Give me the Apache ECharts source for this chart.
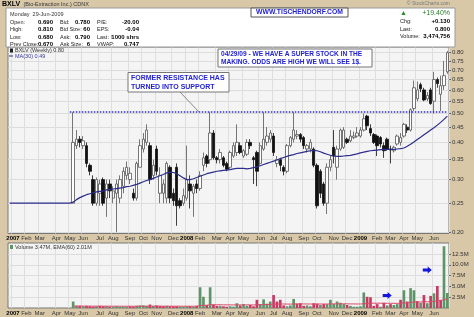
<!DOCTYPE html>
<html>
<head>
<meta charset="utf-8">
<title>BXLV weekly</title>
<script src="https://cdn.jsdelivr.net/npm/echarts@6/dist/echarts.min.js"></script>
<style>
  html, body { margin: 0; padding: 0; background: #d8c8a8; }
  #chart { width: 474px; height: 317px; }
</style>
</head>
<body>
<div id="chart"></div>
<script>
// weekly bars, first slot = week ending 29-Dec-2006, last = week of 29-Jun-2009
var firstWeekEnding = '2006-12-29';
var weekCount = 132;
var firstTradeWeek = 19;   // BXLV starts trading in May 2007

// OHLC for every traded week (from firstTradeWeek on)
var opens = [
  0.25, 0.39, 0.41, 0.39, 0.39, 0.335, 0.30, 0.25, 0.27, 0.30,
  0.26, 0.29, 0.26, 0.27, 0.26, 0.285, 0.31, 0.30, 0.27, 0.26,
  0.33, 0.38, 0.40, 0.39, 0.31, 0.38, 0.27, 0.27, 0.26, 0.33,
  0.27, 0.33, 0.255, 0.25, 0.26, 0.29, 0.27, 0.29, 0.28, 0.335,
  0.36, 0.35, 0.43, 0.355, 0.35, 0.355, 0.34, 0.33, 0.36, 0.37,
  0.39, 0.36, 0.365, 0.40, 0.355, 0.37, 0.34, 0.38, 0.40, 0.41,
  0.42, 0.34, 0.35, 0.33, 0.32, 0.39, 0.41, 0.42, 0.425, 0.415,
  0.38, 0.38, 0.38, 0.335, 0.32, 0.29, 0.25, 0.33, 0.385, 0.33,
  0.38, 0.385, 0.41, 0.405, 0.415, 0.42, 0.42, 0.44, 0.49, 0.445,
  0.425, 0.42, 0.415, 0.39, 0.41, 0.38, 0.375, 0.395, 0.40, 0.42,
  0.45, 0.44, 0.52, 0.56, 0.625, 0.60, 0.56, 0.60, 0.55, 0.65,
  0.58, 0.62, 0.69
];
var closes = [
  0.40, 0.41, 0.40, 0.405, 0.34, 0.32, 0.25, 0.30, 0.29, 0.25,
  0.29, 0.275, 0.275, 0.29, 0.30, 0.32, 0.33, 0.315, 0.26, 0.34,
  0.39, 0.41, 0.44, 0.30, 0.335, 0.32, 0.31, 0.29, 0.34, 0.26,
  0.255, 0.245, 0.245, 0.265, 0.30, 0.275, 0.285, 0.28, 0.31, 0.355,
  0.34, 0.43, 0.355, 0.35, 0.37, 0.335, 0.325, 0.37, 0.39, 0.40,
  0.37, 0.375, 0.40, 0.39, 0.35, 0.32, 0.39, 0.41, 0.42, 0.43,
  0.37, 0.35, 0.335, 0.32, 0.39, 0.415, 0.44, 0.425, 0.41, 0.39,
  0.39, 0.40, 0.335, 0.245, 0.27, 0.25, 0.33, 0.35, 0.36, 0.38,
  0.44, 0.44, 0.40, 0.42, 0.42, 0.43, 0.44, 0.48, 0.455, 0.43,
  0.40, 0.39, 0.395, 0.375, 0.38, 0.377, 0.385, 0.42, 0.415, 0.46,
  0.44, 0.515, 0.61, 0.60, 0.605, 0.555, 0.575, 0.54, 0.65, 0.63,
  0.62, 0.67, 0.80
];
var lows = [
  0.25, 0.38, 0.385, 0.38, 0.33, 0.31, 0.245, 0.245, 0.245, 0.245,
  0.225, 0.26, 0.25, 0.20, 0.25, 0.27, 0.30, 0.29, 0.255, 0.255,
  0.33, 0.37, 0.39, 0.29, 0.30, 0.31, 0.25, 0.25, 0.25, 0.25,
  0.245, 0.21, 0.24, 0.245, 0.255, 0.24, 0.225, 0.27, 0.275, 0.32,
  0.33, 0.34, 0.35, 0.34, 0.34, 0.33, 0.32, 0.325, 0.355, 0.36,
  0.365, 0.355, 0.36, 0.38, 0.29, 0.285, 0.335, 0.375, 0.39, 0.40,
  0.36, 0.33, 0.32, 0.31, 0.315, 0.385, 0.40, 0.41, 0.40, 0.38,
  0.37, 0.37, 0.33, 0.24, 0.26, 0.245, 0.23, 0.32, 0.34, 0.30,
  0.375, 0.38, 0.395, 0.40, 0.41, 0.415, 0.415, 0.435, 0.44, 0.42,
  0.395, 0.36, 0.385, 0.355, 0.375, 0.34, 0.37, 0.39, 0.39, 0.415,
  0.43, 0.435, 0.51, 0.55, 0.59, 0.55, 0.55, 0.535, 0.50, 0.61,
  0.51, 0.60, 0.68
];
var highs = [
  0.505, 0.44, 0.42, 0.42, 0.40, 0.34, 0.31, 0.305, 0.30, 0.305,
  0.30, 0.30, 0.285, 0.30, 0.31, 0.33, 0.345, 0.33, 0.28, 0.345,
  0.41, 0.43, 0.46, 0.40, 0.35, 0.39, 0.33, 0.30, 0.345, 0.335,
  0.28, 0.34, 0.26, 0.28, 0.39, 0.31, 0.29, 0.30, 0.32, 0.37,
  0.365, 0.505, 0.44, 0.36, 0.38, 0.36, 0.345, 0.375, 0.40, 0.46,
  0.40, 0.38, 0.41, 0.41, 0.36, 0.375, 0.40, 0.505, 0.45, 0.44,
  0.43, 0.36, 0.355, 0.335, 0.395, 0.42, 0.505, 0.44, 0.43, 0.42,
  0.395, 0.41, 0.385, 0.34, 0.325, 0.295, 0.34, 0.36, 0.44, 0.39,
  0.445, 0.45, 0.415, 0.44, 0.435, 0.45, 0.45, 0.50, 0.495, 0.46,
  0.43, 0.425, 0.42, 0.40, 0.415, 0.39, 0.39, 0.425, 0.43, 0.465,
  0.46, 0.52, 0.645, 0.64, 0.635, 0.61, 0.59, 0.61, 0.69, 0.66,
  0.67, 0.75, 0.81
];
// weekly volume, millions of shares
var volumes = [
  1.5, 0.5, 0.5, 0.4, 0.5, 0.4, 0.3, 0.4, 0.5, 0.4,
  0.4, 0.3, 0.3, 0.4, 0.3, 0.3, 0.3, 0.4, 0.3, 0.5,
  0.6, 0.6, 0.5, 0.8, 0.5, 0.6, 0.5, 0.4, 0.5, 0.4,
  0.4, 0.4, 0.3, 0.3, 0.4, 0.4, 0.3, 0.5, 4.8, 2.6,
  0.7, 4.8, 0.8, 0.5, 0.5, 0.4, 0.3, 0.4, 0.3, 1.1,
  0.6, 0.9, 0.5, 0.7, 0.4, 1.9, 0.9, 2.0, 1.0, 1.5,
  3.0, 1.5, 1.9, 0.6, 0.4, 0.6, 2.1, 1.0, 1.1, 0.5,
  0.6, 0.4, 1.1, 1.0, 0.7, 0.9, 0.9, 1.9, 0.9, 1.5,
  1.2, 0.9, 0.7, 0.5, 0.3, 0.3, 0.4, 3.6, 2.6, 2.5,
  0.5, 0.9, 0.3, 1.2, 0.6, 0.9, 0.7, 0.9, 1.9, 4.1,
  1.5, 4.6, 4.1, 1.6, 1.2, 3.0, 1.1, 2.8, 3.4, 5.1,
  1.9, 14.3, 3.47
];
var volumeEma = [
  0.45, 0.45, 0.45, 0.44, 0.44, 0.44, 0.43, 0.43, 0.43, 0.43,
  0.42, 0.42, 0.42, 0.42, 0.41, 0.41, 0.41, 0.41, 0.41, 0.41,
  0.41, 0.41, 0.41, 0.42, 0.42, 0.42, 0.42, 0.42, 0.42, 0.42,
  0.41, 0.41, 0.41, 0.41, 0.41, 0.41, 0.41, 0.41, 0.55, 0.62,
  0.63, 0.76, 0.76, 0.75, 0.75, 0.74, 0.73, 0.72, 0.71, 0.72,
  0.72, 0.72, 0.72, 0.72, 0.71, 0.75, 0.75, 0.79, 0.79, 0.81,
  0.88, 0.90, 0.93, 0.92, 0.91, 0.90, 0.94, 0.94, 0.95, 0.94,
  0.93, 0.92, 0.92, 0.92, 0.92, 0.92, 0.92, 0.95, 0.95, 0.96,
  0.97, 0.97, 0.96, 0.95, 0.94, 0.93, 0.92, 1.00, 1.06, 1.12,
  1.11, 1.11, 1.10, 1.10, 1.09, 1.09, 1.08, 1.08, 1.10, 1.19,
  1.20, 1.30, 1.38, 1.39, 1.39, 1.45, 1.44, 1.49, 1.55, 1.67,
  1.67, 2.00, 2.01
];
// MA(30) for every slot of the axis
var ma30 = [
  0.25, 0.25, 0.25, 0.25, 0.25, 0.25, 0.25, 0.25, 0.25, 0.25,
  0.25, 0.25, 0.25, 0.25, 0.25, 0.25, 0.25, 0.25, 0.25,
  0.252, 0.257, 0.261, 0.264, 0.267, 0.269, 0.271, 0.273, 0.274, 0.275,
  0.277, 0.278, 0.279, 0.280, 0.281, 0.282, 0.284, 0.285, 0.287, 0.289,
  0.292, 0.295, 0.298, 0.300, 0.303, 0.306, 0.309, 0.312, 0.316, 0.318,
  0.317, 0.314, 0.309, 0.304, 0.300, 0.300, 0.302, 0.305, 0.308, 0.311,
  0.314, 0.316, 0.318, 0.320, 0.321, 0.322, 0.323, 0.324, 0.326, 0.327,
  0.327, 0.327, 0.326, 0.327, 0.329, 0.331, 0.334, 0.337, 0.340, 0.343,
  0.346, 0.349, 0.353, 0.356, 0.359, 0.362, 0.364, 0.367, 0.369, 0.371,
  0.373, 0.375, 0.376, 0.375, 0.372, 0.368, 0.365, 0.362, 0.360, 0.359,
  0.359, 0.360, 0.361, 0.362, 0.364, 0.366, 0.369, 0.371, 0.373, 0.375,
  0.376, 0.377, 0.378, 0.379, 0.379, 0.379, 0.379, 0.380, 0.381, 0.383,
  0.388, 0.394, 0.401, 0.409, 0.416, 0.424, 0.432, 0.440, 0.448, 0.457,
  0.467, 0.478, 0.490
];

var priceTicks = [0.20, 0.25, 0.30, 0.35, 0.40, 0.45, 0.50, 0.55, 0.60, 0.65, 0.70, 0.75, 0.80];
var volumeTicks = [2.5, 5.0, 7.5, 10.0, 12.5];
var monthNames = ['Jan', 'Feb', 'Mar', 'Apr', 'May', 'Jun', 'Jul', 'Aug', 'Sep', 'Oct', 'Nov', 'Dec'];
var resistanceLevel = 0.505;
var resistanceFrom = 18, resistanceTo = 131;
var arrowMarks = [[113, 2.9], [125, 8.8]];   // [week slot, volume M]

var FONT = 'Liberation Sans, Arial, sans-serif';

var weekDates = [];
var categories = [];
var t0 = Date.parse(firstWeekEnding + 'T00:00:00Z');
for (var k = 0; k < weekCount; k++) {
    var d = new Date(t0 + k * 7 * 86400000);
    weekDates.push(d);
    categories.push(d.toISOString().slice(0, 10));
}
// first week of a month gets a label and a grid line (the last, partial week does not)
function monthStart(k) {
    if (k === 0 || k === weekCount - 1) return false;
    return weekDates[k].getUTCMonth() !== weekDates[k - 1].getUTCMonth();
}
function monthLabel(v, k) {
    var d = weekDates[k];
    if (d.getUTCMonth() === 0) return '{y|' + d.getUTCFullYear() + '}';
    return monthNames[d.getUTCMonth()];
}

var candleData = [], volData = [], emaData = [];
for (var j = 0; j < opens.length; j++) {
    var slot = j + firstTradeWeek;
    candleData.push([slot, opens[j], closes[j], lows[j], highs[j]]);
    var up = j === 0 ? closes[j] >= opens[j] : closes[j] >= closes[j - 1];
    volData.push({value: [slot, volumes[j]], itemStyle: {color: up ? '#5f9468' : '#c53a60'}});
    emaData.push([slot, volumeEma[j]]);
}

function xAxisFor(gridIndex) {
    return {
        type: 'category', gridIndex: gridIndex, data: categories, boundaryGap: true,
        axisLine: {show: false}, axisTick: {show: false},
        axisLabel: {
            interval: function (k) { return monthStart(k); },
            formatter: monthLabel, fontSize: 6, color: '#333', margin: 2, fontFamily: FONT,
            rich: {y: {fontSize: 6, fontWeight: 'bold', color: '#000', fontFamily: FONT}}
        },
        splitLine: {show: true, interval: function (k) { return monthStart(k); },
            lineStyle: {color: '#dedede', width: 1}}
    };
}

// small helpers for the annotation texts
function txt(x, y, s, size, color, weight, align) {
    return {type: 'text', x: x, y: y, z: 100, silent: true, style: {
        text: s, fill: color || '#222', align: align || 'left', verticalAlign: 'middle',
        font: (weight || 'normal') + ' ' + size + 'px ' + FONT}};
}
function box(x, y, w, h, stroke) {
    return {type: 'rect', z: 99, silent: true, shape: {x: x, y: y, width: w, height: h},
        style: {fill: '#ffffff', stroke: stroke || '#888', lineWidth: 1}};
}

var blue = '#2323d2';
var graphics = [
    {type: 'text', x: 2, y: 4.5, z: 100, style: {
        text: '{a|BXLV} {b|(Bio-Extraction Inc.) CDNX}', verticalAlign: 'middle',
        rich: {a: {font: 'bold 7px ' + FONT, fill: '#000'}, b: {font: '5.5px ' + FONT, fill: '#333'}}}},
    txt(450, 4, '© StockCharts.com', 5, '#777', 'normal', 'right'),
    box(6, 8, 449, 39, '#999'),
    txt(10, 14, 'Monday  29-Jun-2009', 5.5, '#333'),
    txt(10, 22, 'Open:', 5.5), txt(53, 22, '0.690', 6, '#000', 'bold', 'right'),
    txt(10, 29.5, 'High:', 5.5), txt(53, 29.5, '0.810', 6, '#000', 'bold', 'right'),
    txt(10, 37, 'Low:', 5.5), txt(53, 37, '0.680', 6, '#000', 'bold', 'right'),
    txt(10, 44, 'Prev Close:', 5.5), txt(53, 44, '0.670', 6, '#000', 'bold', 'right'),
    txt(60, 22, 'Bid:', 5.5), txt(90, 22, '0.780', 6, '#000', 'bold', 'right'),
    txt(60, 29.5, 'Bid Size:', 5.5), txt(90, 29.5, '60', 6, '#000', 'bold', 'right'),
    txt(60, 37, 'Ask:', 5.5), txt(90, 37, '0.790', 6, '#000', 'bold', 'right'),
    txt(60, 44, 'Ask Size:', 5.5), txt(90, 44, '6', 6, '#000', 'bold', 'right'),
    txt(97, 22, 'P/E:', 5.5), txt(139, 22, '-20.00', 6, '#000', 'bold', 'right'),
    txt(97, 29.5, 'EPS:', 5.5), txt(139, 29.5, '-0.04', 6, '#000', 'bold', 'right'),
    txt(97, 37, 'Last:', 5.5), txt(110, 37, '↑', 6.5, '#1f8a2a', 'bold'),
    txt(139, 37, '1000 shrs', 6, '#000', 'bold', 'right'),
    txt(97, 44, 'VWAP:', 5.5), txt(139, 44, '0.747', 6, '#000', 'bold', 'right'),
    txt(400, 13, '▲', 7, '#2a8a2a'),
    txt(450, 13, '+19.40%', 7, '#2a7a2a', 'normal', 'right'),
    txt(400, 21.5, 'Chg:', 5.5), txt(450, 21.5, '+0.130', 6, '#000', 'bold', 'right'),
    txt(400, 29, 'Last:', 5.5), txt(450, 29, '0.800', 6, '#000', 'bold', 'right'),
    txt(400, 36.5, 'Volume:', 5.5), txt(450, 36.5, '3,474,756', 6, '#000', 'bold', 'right'),
    box(251, 8, 97, 9, '#555'),
    txt(299.5, 12.5, 'WWW.TISCHENDORF.COM', 6.8, blue, 'bold', 'center'),
    // price legend
    {type: 'rect', z: 100, shape: {x: 10, y: 48.5, width: 3, height: 4}, style: {fill: '#222'}},
    txt(15, 50.5, 'BXLV (Weekly) 0.80', 5.5, '#333'),
    {type: 'line', z: 100, shape: {x1: 9, y1: 56, x2: 13, y2: 56}, style: {stroke: '#2c2c8c', lineWidth: 1}},
    txt(15, 56, 'MA(30) 0.49', 5.5, '#3a3aa0'),
    // notes on the price panel
    box(218, 49, 154, 18, '#777'),
    txt(221, 54.5, '04/29/09 - WE HAVE A SUPER STOCK IN THE', 6.6, blue, 'bold'),
    txt(221, 62.5, 'MAKING. ODDS ARE HIGH WE WILL SEE 1$.', 6.6, blue, 'bold'),
    {type: 'line', z: 98, shape: {x1: 180, y1: 92, x2: 199, y2: 112}, style: {stroke: '#888', lineWidth: 1}},
    box(128, 72.5, 101, 19.5, '#777'),
    txt(131, 78, 'FORMER RESISTANCE HAS', 7, blue, 'bold'),
    txt(131, 87, 'TURNED INTO SUPPORT', 7, blue, 'bold'),
    // volume legend
    {type: 'rect', z: 100, shape: {x: 10, y: 245, width: 3, height: 4}, style: {fill: '#5f9468'}},
    txt(15, 247, 'Volume 3.47M, EMA(60) 2.01M', 5.5, '#333')
];

var chart = echarts.init(document.getElementById('chart'), null, {renderer: 'canvas'});
chart.setOption({
    animation: false,
    backgroundColor: '#d8c8a8',
    grid: [
        {left: 8, width: 441, top: 47, height: 186.5, show: true, backgroundColor: '#f4f4f4',
            borderColor: '#777', borderWidth: 1, outerBoundsMode: 'none'},
        {left: 8, width: 441, top: 243, height: 65, show: true, backgroundColor: '#f4f4f4',
            borderColor: '#777', borderWidth: 1, outerBoundsMode: 'none'}
    ],
    xAxis: [xAxisFor(0), xAxisFor(1)],
    yAxis: [
        {
            type: 'log', gridIndex: 0, position: 'right', min: 0.1978, max: 0.836,
            axisLine: {show: false},
            axisTick: {show: true, length: 2, customValues: priceTicks, lineStyle: {color: '#666'}},
            axisLabel: {customValues: priceTicks, fontSize: 6, color: '#333', margin: 3, fontFamily: FONT,
                formatter: function (v) { return (+v).toFixed(2); }},
            splitLine: {show: true, lineStyle: {color: '#dcdcdc', width: 1}}
        },
        {
            type: 'value', gridIndex: 1, position: 'right', min: 0, max: 15.05,
            axisLine: {show: false},
            axisTick: {show: true, length: 2, customValues: volumeTicks, lineStyle: {color: '#666'}},
            axisLabel: {customValues: volumeTicks, fontSize: 6, color: '#333', margin: 3, fontFamily: FONT,
                formatter: function (v) { return (+v).toFixed(1) + 'M'; }},
            splitLine: {show: true, lineStyle: {color: '#dcdcdc', width: 1}}
        }
    ],
    series: [
        {
            type: 'candlestick', xAxisIndex: 0, yAxisIndex: 0,
            data: candleData, encode: {x: 0, y: [1, 2, 3, 4]},
            barWidth: '88%',
            itemStyle: {color: '#ffffff', color0: '#111111', borderColor: '#555555',
                borderColor0: '#111111', borderWidth: 0.8},
            markLine: {
                silent: true, symbol: ['none', 'none'], label: {show: false},
                lineStyle: {type: 'dotted', color: '#3030d0', width: 1.5},
                data: [[{coord: [resistanceFrom, resistanceLevel]}, {coord: [resistanceTo, resistanceLevel]}]]
            }
        },
        {
            type: 'line', xAxisIndex: 0, yAxisIndex: 0, data: ma30,
            symbol: 'none', lineStyle: {color: '#2c2c8c', width: 1.2}, z: 3
        },
        {
            type: 'bar', xAxisIndex: 1, yAxisIndex: 1, data: volData, barWidth: '80%',
            markPoint: {
                silent: true, symbol: 'path://M0,3L6,3L6,0L11,5L6,10L6,7L0,7Z', symbolSize: [9, 7],
                itemStyle: {color: '#1515e0'}, label: {show: false},
                data: arrowMarks.map(function (p) { return {coord: p}; })
            }
        },
        {
            type: 'line', xAxisIndex: 1, yAxisIndex: 1, data: emaData,
            symbol: 'none', lineStyle: {color: '#dc4a6a', width: 1}, z: 4
        }
    ],
    graphic: graphics
});
</script>
</body>
</html>
